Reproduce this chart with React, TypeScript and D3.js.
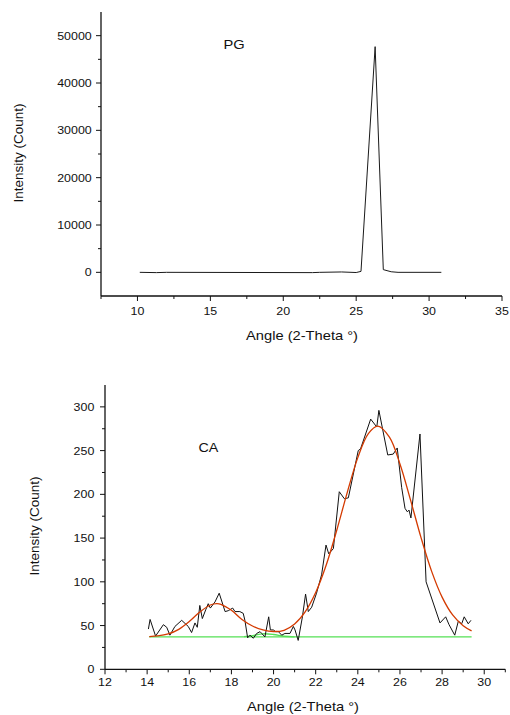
import React from "react";
import * as d3 from "d3";

// ---------- Top chart (PG) ----------
const pgAngle = [10.16, 11.3, 12.0, 22.0, 22.5, 24.0, 25.0, 25.33, 26.3, 26.86, 27.4, 27.87, 30.84];
const pgCount = [0, -60, 0, -60, 0, 80, -40, 200, 47680, 570, 120, 0, 0];
const pgXTicks = [10, 15, 20, 25, 30, 35];
const pgXMinor = [7.5, 12.5, 17.5, 22.5, 27.5, 32.5];
const pgYTicks = [0, 10000, 20000, 30000, 40000, 50000];
const pgYMinor = [5000, 15000, 25000, 35000, 45000];

// ---------- Bottom chart (CA) ----------
const caAngle = [
  14.06, 14.14, 14.4, 14.77, 14.93, 15.08, 15.32, 15.64, 15.95, 16.11, 16.27, 16.38, 16.5, 16.62,
  16.78, 16.9, 17.0, 17.22, 17.42, 17.7, 17.85, 18.06, 18.17, 18.4, 18.56, 18.64, 18.77, 18.88,
  19.04, 19.2, 19.36, 19.44, 19.59, 19.77, 19.85, 19.99, 20.1, 20.23, 20.39, 20.54, 20.78, 20.94,
  21.02, 21.17, 21.37, 21.52, 21.65, 21.81, 22.04, 22.28, 22.49, 22.62, 22.84, 23.12, 23.36, 23.55,
  24.02, 24.13, 24.61, 24.9, 25.0, 25.42, 25.68, 25.87, 26.08, 26.24, 26.35, 26.43, 26.52, 26.95,
  27.24, 27.9, 28.17, 28.33, 28.6, 28.77, 28.93, 29.05, 29.24, 29.37,
];
const caCount = [
  46, 57, 38, 51, 48, 39, 49, 56, 49, 42, 53, 48, 73, 58,
  68, 75, 70, 77, 87, 66, 67, 70, 66, 66, 64, 56, 36, 39,
  35.5, 41, 43, 41, 37, 60, 45, 45, 43, 43, 39, 41, 41, 49,
  45, 33, 60, 86, 66, 71, 87, 108, 142, 132, 138, 203, 195, 196,
  250, 252, 286, 277, 296, 245, 246, 253, 208, 184, 180, 182, 173, 269,
  100, 53, 60, 51, 39, 55, 52, 60, 52, 56,
];
const fitAngle = [
  14.1, 14.5, 15.0, 15.5, 16.0, 16.5, 17.0, 17.3, 17.5, 18.0, 18.5, 19.0, 19.5, 20.0, 20.5, 21.0,
  21.5, 22.0, 22.5, 23.0, 23.5, 24.0, 24.5, 24.95, 25.5, 26.0, 26.5, 27.0, 27.5, 28.0, 28.5, 29.0, 29.4,
];
const fitCount = [
  37.4, 38.1, 40.4, 45.7, 54.6, 65.4, 73.5, 75, 74.3, 67.4, 56.9, 49.5, 45.0, 43.2, 44.6, 51.8,
  65.6, 87.7, 119.2, 159, 202.3, 242, 269.4, 278, 265.3, 234.7, 193.7, 150.5, 112.2, 82.5, 62.1, 49.8, 43.9,
];
const baseAngle = [14.1, 29.4];
const baseCount = [37, 37];
const bumpAngle = [18.6, 19.0, 19.5, 20.0, 20.5, 21.0];
const bumpCount = [37.3, 38.6, 40.6, 39.8, 37.8, 37.1];
const caXTicks = [12, 14, 16, 18, 20, 22, 24, 26, 28, 30];
const caXMinor = [13, 15, 17, 19, 21, 23, 25, 27, 29, 31];
const caYTicks = [0, 50, 100, 150, 200, 250, 300];
const caYMinor = [25, 75, 125, 175, 225, 275];

const FONT = "'Liberation Sans', Arial, Helvetica, sans-serif";

type TxtProps = { x: number; y: number; size: number; sx?: number; anchor?: string; rotate?: number; baseline?: string; children: React.ReactNode };
function Txt({ x, y, size, sx = 1, anchor = "start", rotate = 0, baseline, children }: TxtProps) {
  const t = `translate(${x},${y})` + (rotate ? ` rotate(${rotate})` : "") + ` scale(${sx},1)`;
  return (
    <text transform={t} fontSize={size} fontFamily={FONT} textAnchor={anchor} dominantBaseline={baseline} fill="#111">
      {children}
    </text>
  );
}

function zip(a: number[], b: number[]): [number, number][] {
  return a.map((v, i) => [v, b[i]]);
}

export default function App() {
  const pgX = d3.scaleLinear().domain([7.5, 35]).range([101, 502]);
  const pgY = d3.scaleLinear().domain([-5000, 55000]).range([296, 12]);
  const caX = d3.scaleLinear().domain([12, 31]).range([105, 505.3]);
  const caY = d3.scaleLinear().domain([0, 325]).range([669.3, 385]);

  const pgLine = d3.line<[number, number]>().x((d) => pgX(d[0])).y((d) => pgY(d[1]));
  const caLine = d3.line<[number, number]>().x((d) => caX(d[0])).y((d) => caY(d[1]));
  const fitLine = d3
    .line<[number, number]>()
    .x((d) => caX(d[0]))
    .y((d) => caY(d[1]))
    .curve(d3.curveCatmullRom);

  const tickSx = 1.13;
  const axisStroke = "#111";

  return (
    <svg width={510} height={715} style={{ position: "absolute", left: 0, top: 0, background: "#fff" }}>
      <rect width={510} height={715} fill="#fff" />
      {/* ===== Top chart ===== */}
      <g>
        <line x1={pgX(7.5)} x2={pgX(7.5)} y1={pgY(55000)} y2={pgY(-5000)} stroke={axisStroke} strokeWidth={1.3} />
        <line x1={pgX(7.5)} x2={pgX(35)} y1={pgY(-5000)} y2={pgY(-5000)} stroke={axisStroke} strokeWidth={1.3} />
        {pgYTicks.map((t) => (
          <g key={"pgy" + t}>
            <line x1={pgX(7.5) - 5} x2={pgX(7.5)} y1={pgY(t)} y2={pgY(t)} stroke={axisStroke} strokeWidth={1} />
            <Txt x={91.7} y={pgY(t) + 4} size={11} sx={tickSx} anchor="end">{t}</Txt>
          </g>
        ))}
        {pgYMinor.map((t) => (
          <line key={"pgym" + t} x1={pgX(7.5) - 3} x2={pgX(7.5)} y1={pgY(t)} y2={pgY(t)} stroke={axisStroke} strokeWidth={1} />
        ))}
        {pgXTicks.map((t) => (
          <g key={"pgx" + t}>
            <line x1={pgX(t)} x2={pgX(t)} y1={pgY(-5000)} y2={pgY(-5000) + 5} stroke={axisStroke} strokeWidth={1} />
            <Txt x={pgX(t)} y={315} size={11} sx={tickSx} anchor="middle">{t}</Txt>
          </g>
        ))}
        {pgXMinor.map((t) => (
          <line key={"pgxm" + t} x1={pgX(t)} x2={pgX(t)} y1={pgY(-5000)} y2={pgY(-5000) + 3} stroke={axisStroke} strokeWidth={1} />
        ))}
        <path d={pgLine(zip(pgAngle, pgCount)) || ""} fill="none" stroke="#1a1a1a" strokeWidth={1} />
        <Txt x={234} y={49.3} size={13} sx={1.13} anchor="middle">PG</Txt>
        <Txt x={302} y={340} size={13} sx={1.13} anchor="middle">Angle (2-Theta °)</Txt>
        <Txt x={23} y={153} size={13.5} rotate={-90} anchor="middle">Intensity (Count)</Txt>
      </g>

      {/* ===== Bottom chart ===== */}
      <g>
        <line x1={caX(12)} x2={caX(12)} y1={caY(325)} y2={caY(0)} stroke={axisStroke} strokeWidth={1.3} />
        <line x1={caX(12)} x2={caX(31)} y1={caY(0)} y2={caY(0)} stroke={axisStroke} strokeWidth={1.3} />
        {caYTicks.map((t) => (
          <g key={"cay" + t}>
            <line x1={caX(12) - 5} x2={caX(12)} y1={caY(t)} y2={caY(t)} stroke={axisStroke} strokeWidth={1} />
            <Txt x={94.3} y={caY(t) + 4} size={11} sx={tickSx} anchor="end">{t}</Txt>
          </g>
        ))}
        {caYMinor.map((t) => (
          <line key={"caym" + t} x1={caX(12) - 3} x2={caX(12)} y1={caY(t)} y2={caY(t)} stroke={axisStroke} strokeWidth={1} />
        ))}
        {caXTicks.map((t) => (
          <g key={"cax" + t}>
            <line x1={caX(t)} x2={caX(t)} y1={caY(0)} y2={caY(0) + 5} stroke={axisStroke} strokeWidth={1} />
            <Txt x={caX(t)} y={685.5} size={11} sx={tickSx} anchor="middle">{t}</Txt>
          </g>
        ))}
        {caXMinor.map((t) => (
          <line key={"caxm" + t} x1={caX(t)} x2={caX(t)} y1={caY(0)} y2={caY(0) + 3} stroke={axisStroke} strokeWidth={1} />
        ))}
        <path d={caLine(zip(baseAngle, baseCount)) || ""} fill="none" stroke="#55e055" strokeWidth={1.3} />
        <path d={fitLine(zip(bumpAngle, bumpCount)) || ""} fill="none" stroke="#55e055" strokeWidth={1.3} />
        <path d={caLine(zip(caAngle, caCount)) || ""} fill="none" stroke="#111" strokeWidth={1} />
        <path d={fitLine(zip(fitAngle, fitCount)) || ""} fill="none" stroke="#d43a00" strokeWidth={1.3} />
        <Txt x={208.3} y={451.7} size={13} sx={1.1} anchor="middle">CA</Txt>
        <Txt x={303} y={711} size={13} sx={1.13} anchor="middle">Angle (2-Theta °)</Txt>
        <Txt x={39} y={526} size={13.5} rotate={-90} anchor="middle">Intensity (Count)</Txt>
      </g>
    </svg>
  );
}
